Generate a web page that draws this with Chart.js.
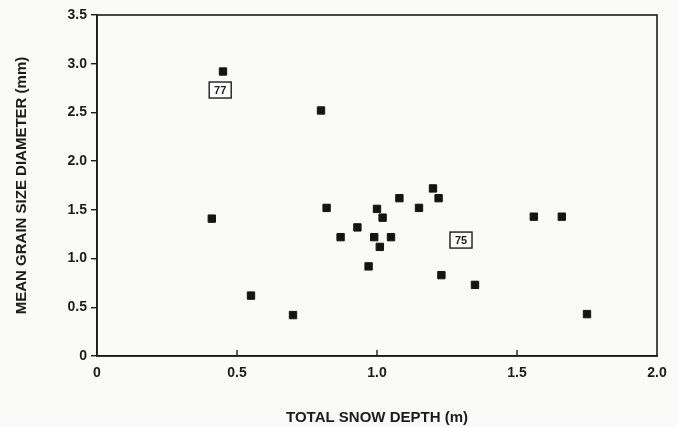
<!DOCTYPE html>
<html>
<head>
<meta charset="utf-8">
<script src="https://cdn.jsdelivr.net/npm/chart.js@4"></script>
<style>
  html, body { margin: 0; padding: 0; background: #fafaf8; }
  #wrap { width: 678px; height: 427px; position: relative; }
</style>
</head>
<body>
<div id="wrap"><canvas id="c" width="678" height="427"></canvas></div>
<script>
// Data
const snowDepth = [0.45, 0.80, 0.41, 0.82, 0.55, 0.70, 1.00, 1.08, 1.15, 1.20, 1.22, 1.02,
                   0.93, 0.87, 0.99, 1.05, 1.01, 0.97, 1.23, 1.56, 1.66, 1.35, 1.75];
const grainSize = [2.92, 2.52, 1.41, 1.52, 0.62, 0.42, 1.51, 1.62, 1.52, 1.72, 1.62, 1.42,
                   1.32, 1.22, 1.22, 1.22, 1.12, 0.92, 0.83, 1.43, 1.43, 0.73, 0.43];
const xTickValues = [0, 0.5, 1.0, 1.5, 2.0];
const xTickLabels = ['0', '0.5', '1.0', '1.5', '2.0'];
const yTickValues = [0, 0.5, 1.0, 1.5, 2.0, 2.5, 3.0, 3.5];
const yTickLabels = ['0', '0.5', '1.0', '1.5', '2.0', '2.5', '3.0', '3.5'];
const noteLabels = ['77', '75'];
const noteX = [0.44, 1.30];
const noteY = [2.73, 1.19];

const points = snowDepth.map((x, i) => ({ x: x, y: grainSize[i] }));
const INK = '#1c1c1c';
const FONT = "'Liberation Sans', Arial, Helvetica, sans-serif";

function labelFor(values, labels, v) {
  for (let i = 0; i < values.length; i++) if (Math.abs(values[i] - v) < 1e-6) return labels[i];
  return '';
}

const framePlugin = {
  id: 'frame',
  afterDraw(chart) {
    const ctx = chart.ctx, a = chart.chartArea;
    const xs = chart.scales.x;
    ctx.save();
    ctx.strokeStyle = INK;
    ctx.lineWidth = 1.6;
    ctx.strokeRect(a.left, a.top, a.right - a.left, a.bottom - a.top);
    // inward tick marks on x axis
    ctx.lineWidth = 1.4;
    xTickValues.forEach(v => {
      if (v <= xs.min || v >= xs.max) return;
      const px = xs.getPixelForValue(v);
      ctx.beginPath();
      ctx.moveTo(px, a.bottom);
      ctx.lineTo(px, a.bottom - 6);
      ctx.stroke();
    });
    // boxed notes
    const ys = chart.scales.y;
    ctx.font = 'bold 11px ' + FONT;
    ctx.textAlign = 'center';
    ctx.textBaseline = 'middle';
    noteLabels.forEach((t, i) => {
      const cx = xs.getPixelForValue(noteX[i]);
      const cy = ys.getPixelForValue(noteY[i]);
      const w = 22, h = 16;
      ctx.fillStyle = '#ffffff';
      ctx.fillRect(cx - w / 2, cy - h / 2, w, h);
      ctx.lineWidth = 1.4;
      ctx.strokeRect(cx - w / 2, cy - h / 2, w, h);
      ctx.fillStyle = INK;
      ctx.fillText(t, cx, cy + 0.5);
    });
    ctx.restore();
  }
};

new Chart(document.getElementById('c'), {
  type: 'scatter',
  data: {
    datasets: [{
      data: points,
      pointStyle: 'rect',
      pointRadius: 5.2,
      pointHoverRadius: 5.2,
      borderWidth: 1,
      backgroundColor: '#141414',
      borderColor: '#141414'
    }]
  },
  plugins: [framePlugin],
  options: {
    responsive: false,
    animation: false,
    events: [],
    layout: { padding: { left: 0, top: 15, right: 21, bottom: 0 } },
    plugins: { legend: { display: false }, tooltip: { enabled: false } },
    scales: {
      x: {
        type: 'linear',
        min: 0, max: 2.0,
        afterBuildTicks(scale) { scale.ticks = xTickValues.map(v => ({ value: v })); },
        afterFit(scale) { scale.height = 71; },
        grid: { display: true, drawOnChartArea: false, drawTicks: false },
        border: { display: true, color: INK, width: 1.6 },
        ticks: {
          color: INK,
          font: { family: FONT, size: 14, weight: 'bold' },
          padding: 9,
          maxRotation: 0,
          callback: (v) => labelFor(xTickValues, xTickLabels, v)
        },
        title: {
          display: true,
          text: 'TOTAL SNOW DEPTH (m)',
          color: INK,
          font: { family: FONT, size: 15, weight: 'bold' },
          padding: { top: 2, bottom: 0 }
        }
      },
      y: {
        type: 'linear',
        min: 0, max: 3.5,
        afterBuildTicks(scale) { scale.ticks = yTickValues.map(v => ({ value: v })); },
        afterFit(scale) { scale.width = 97; },
        grid: { display: true, drawOnChartArea: false, drawTicks: true, tickLength: 6, color: INK, lineWidth: 1.4 },
        border: { display: true, color: INK, width: 1.6 },
        ticks: {
          color: INK,
          font: { family: FONT, size: 14, weight: 'bold' },
          padding: 4,
          callback: (v) => labelFor(yTickValues, yTickLabels, v)
        },
        title: {
          display: true,
          text: 'MEAN GRAIN SIZE DIAMETER (mm)',
          color: INK,
          font: { family: FONT, size: 15, weight: 'bold' },
          padding: { top: 13, bottom: 0 }
        }
      }
    }
  }
});
</script>
</body>
</html>
